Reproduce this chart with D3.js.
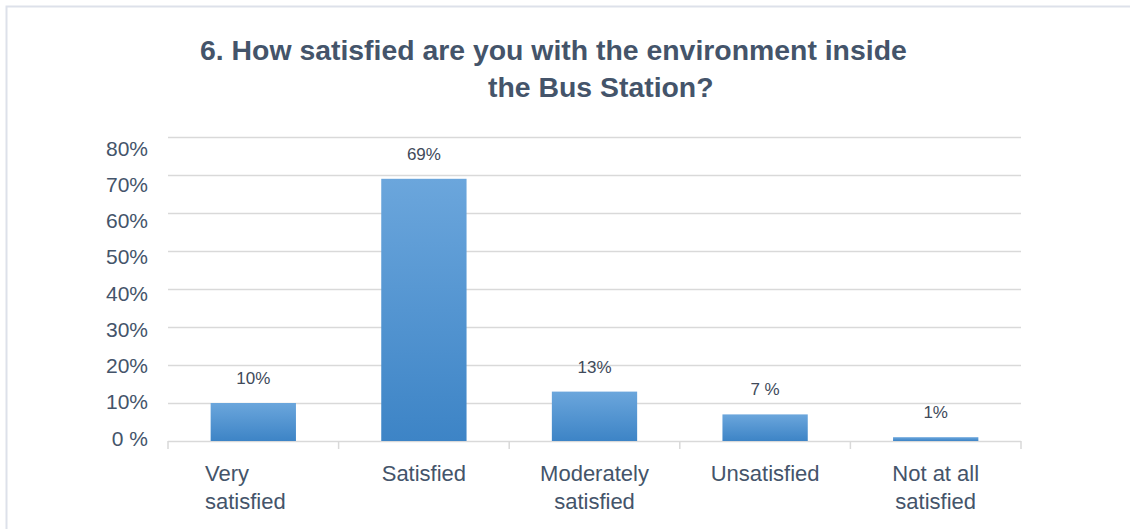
<!DOCTYPE html>
<html>
<head>
<meta charset="utf-8">
<script src="https://cdn.jsdelivr.net/npm/d3@7"></script>
<style>
  html, body { margin: 0; padding: 0; background: #fff; }
  svg { display: block; font-family: "Liberation Sans", Arial, sans-serif; }
</style>
</head>
<body>
<svg id="chart" width="1130" height="529"></svg>
<script>
// Survey question 6: satisfaction with the environment inside the Bus Station
const categories = ["Very satisfied", "Satisfied", "Moderately satisfied", "Unsatisfied", "Not at all satisfied"];
const categoryLines = [["Very", "satisfied"], ["Satisfied"], ["Moderately", "satisfied"], ["Unsatisfied"], ["Not at all", "satisfied"]];
const values = [10, 69, 13, 7, 1];
const valueLabels = ["10%", "69%", "13%", "7 %", "1%"];
const yTicks = [0, 10, 20, 30, 40, 50, 60, 70, 80];
const yTickLabels = ["0 %", "10%", "20%", "30%", "40%", "50%", "60%", "70%", "80%"];
const titleLines = ["6. How satisfied are you with the environment inside", "the Bus Station?"];

const svg = d3.select("#chart");
const textColor = "#44546a";
const gridColor = "#d9d9d9";

// frame
svg.append("rect")
  .attr("x", 6.5).attr("y", 6.5)
  .attr("width", 1140).attr("height", 540)
  .attr("fill", "none").attr("stroke", "#dde1ea").attr("stroke-width", 2);

const plot = { left: 168, right: 1021, top: 137, bottom: 441 };

const x = d3.scaleBand()
  .domain(categories)
  .range([plot.left, plot.right])
  .paddingInner(0.5)
  .paddingOuter(0.25);

const y = d3.scaleLinear()
  .domain([0, 80])
  .range([plot.bottom, plot.top]);

// axis labels sit on a slightly tighter ladder than the gridlines
const yLabel = d3.scaleLinear()
  .domain([0, 80])
  .range([y(0) - 2.5, y(80) + 11.5]);

// bar gradient
const defs = svg.append("defs");
const grad = defs.append("linearGradient")
  .attr("id", "barFill").attr("x1", 0).attr("y1", 0).attr("x2", 0).attr("y2", 1);
grad.append("stop").attr("offset", "0%").attr("stop-color", "#6ba6dc");
grad.append("stop").attr("offset", "100%").attr("stop-color", "#3d84c6");

// title
const title = svg.append("g")
  .attr("font-size", 28.4).attr("font-weight", "bold")
  .attr("fill", textColor);
title.append("text").attr("x", 200).attr("y", 60).text(titleLines[0]);
title.append("text").attr("x", 488).attr("y", 97).text(titleLines[1]);

// horizontal gridlines
svg.append("g")
  .selectAll("line")
  .data(yTicks)
  .join("line")
  .attr("x1", plot.left).attr("x2", plot.right)
  .attr("y1", d => y(d) + 0.5).attr("y2", d => y(d) + 0.5)
  .attr("stroke", gridColor).attr("stroke-width", 1.5);

// y axis labels
const yAxis = svg.append("g")
  .attr("transform", `translate(${plot.left},0)`)
  .call(d3.axisLeft(yLabel).tickValues(yTicks).tickSize(0).tickPadding(20)
    .tickFormat((d, i) => yTickLabels[i]));
yAxis.select(".domain").remove();
yAxis.selectAll("text")
  .attr("font-size", 21)
  .attr("font-family", "Liberation Sans, Arial, sans-serif")
  .attr("fill", textColor);

// category boundary ticks below the baseline
const bounds = d3.range(categories.length + 1).map(i => plot.left + i * x.step());
svg.append("g")
  .selectAll("line")
  .data(bounds)
  .join("line")
  .attr("x1", d => d).attr("x2", d => d)
  .attr("y1", plot.bottom).attr("y2", plot.bottom + 8)
  .attr("stroke", gridColor).attr("stroke-width", 1.5);

// bars
svg.append("g")
  .selectAll("rect")
  .data(values)
  .join("rect")
  .attr("x", (d, i) => x(categories[i]))
  .attr("width", x.bandwidth())
  .attr("y", d => y(d))
  .attr("height", d => y(0) - y(d))
  .attr("fill", "url(#barFill)");

// value labels
svg.append("g")
  .selectAll("text")
  .data(values)
  .join("text")
  .attr("x", (d, i) => x(categories[i]) + x.bandwidth() / 2)
  .attr("y", d => y(d) - 19)
  .attr("text-anchor", "middle")
  .attr("font-size", 17)
  .attr("fill", "#404a5a")
  .text((d, i) => valueLabels[i]);

// category labels (first label is set as a left-aligned block)
const catG = svg.append("g");
categoryLines.forEach((lines, i) => {
  const cx = x(categories[i]) + x.bandwidth() / 2;
  const t = catG.append("text")
    .attr("font-size", 22)
    .attr("fill", textColor);
  const spans = lines.map((ln, j) =>
    t.append("tspan").attr("y", 481 + j * 28).text(ln));
  if (i === 0) {
    const w = d3.max(spans, s => s.node().getComputedTextLength());
    t.attr("text-anchor", "start");
    spans.forEach(s => s.attr("x", cx - w / 2 - 8));
  } else {
    t.attr("text-anchor", "middle");
    spans.forEach(s => s.attr("x", cx));
  }
});
</script>
</body>
</html>
